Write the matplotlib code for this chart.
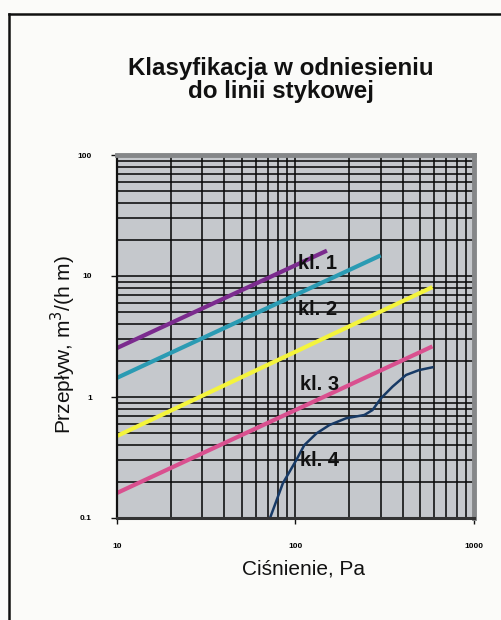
import matplotlib
matplotlib.use("Agg")
import matplotlib.pyplot as plt
from matplotlib.lines import Line2D
from matplotlib.ticker import LogLocator, NullFormatter, FixedLocator, FixedFormatter

# --- data -------------------------------------------------------------
# Class limit lines (straight in log-log): start/end pressure [Pa] and flow [m3/(h m)]
kl1_p = [10, 150]
kl1_q = [2.54, 16.2]
kl2_p = [10, 300]
kl2_q = [1.44, 14.8]
kl3_p = [10, 585]
kl3_q = [0.476, 8.1]
kl4_p = [10, 585]
kl4_q = [0.161, 2.62]

# Measured joint air permeability
meas_p = [72, 85, 101, 112, 131, 155, 192, 243, 270, 301, 350, 416, 493, 585]
meas_q = [0.1, 0.194, 0.301, 0.40, 0.50, 0.587, 0.667, 0.71, 0.78, 0.975, 1.22, 1.52, 1.67, 1.76]

class_labels = ["kl. 1", "kl. 2", "kl. 3", "kl. 4"]
label_p = [133, 133, 136, 136]
label_q = [12.6, 5.33, 1.26, 0.30]

x_ticks = [10, 100, 1000]
x_ticklabels = ["10", "100", "1000"]
y_ticks = [0.1, 1, 10, 100]
y_ticklabels = ["0.1", "1", "10", "100"]

title = "Klasyfikacja w odniesieniu\ndo linii stykowej"
xlabel = "Ciśnienie, Pa"
ylabel = "Przepływ, m$^3$/(h m)"

# --- figure -----------------------------------------------------------
plt.rcParams["font.family"] = ["Liberation Sans", "DejaVu Sans"]
W, H = 502, 620
fig = plt.figure(figsize=(W / 100, H / 100), dpi=100)
fig.patch.set_facecolor("#fbfbf9")

# outer frame (top and left edges)
fig.add_artist(Line2D([9 / W, 1.0], [1 - 14 / H, 1 - 14 / H], color="#111111", lw=1.8))
fig.add_artist(Line2D([9 / W, 9 / W], [0.0, 1 - 14 / H], color="#111111", lw=1.8))

left, right, top, bottom = 117, 474, 155, 518
ax = fig.add_axes([left / W, 1 - bottom / H, (right - left) / W, (bottom - top) / H])
ax.set_facecolor("#c5c8cc")
ax.set_xscale("log")
ax.set_yscale("log")
ax.set_xlim(10, 1000)
ax.set_ylim(0.1, 100)

# grid
ax.xaxis.set_minor_locator(LogLocator(base=10, subs=range(2, 10)))
ax.yaxis.set_minor_locator(LogLocator(base=10, subs=range(2, 10)))
ax.xaxis.set_minor_formatter(NullFormatter())
ax.yaxis.set_minor_formatter(NullFormatter())
ax.grid(True, which="both", color="#0a0a0a", lw=1.15)
ax.set_axisbelow(True)

ax.xaxis.set_major_locator(FixedLocator(x_ticks))
ax.xaxis.set_major_formatter(FixedFormatter(x_ticklabels))
ax.yaxis.set_major_locator(FixedLocator(y_ticks))
ax.yaxis.set_major_formatter(FixedFormatter(y_ticklabels))
ax.tick_params(which="minor", length=0)
ax.tick_params(which="major", length=4, width=1.0, color="#111111")
ax.tick_params(axis="x", which="major", pad=14, labelsize=6)
ax.tick_params(axis="y", which="major", pad=14, labelsize=6)
for lab in ax.get_xticklabels() + ax.get_yticklabels():
    lab.set_fontweight("bold")

# spines: dark axis lines left/bottom, gray plot-area border top/right
ax.spines["left"].set_color("#111111")
ax.spines["left"].set_linewidth(1.6)
ax.spines["bottom"].set_color("#333333")
ax.spines["bottom"].set_linewidth(2.2)
ax.spines["top"].set_color("#858789")
ax.spines["top"].set_linewidth(3.5)
ax.spines["right"].set_color("#858789")
ax.spines["right"].set_linewidth(3.5)

# series
ax.plot(kl1_p, kl1_q, color="#7b2b8e", lw=3.0, solid_capstyle="butt")
ax.plot(kl2_p, kl2_q, color="#2b9bb3", lw=3.0, solid_capstyle="butt")
ax.plot(kl3_p, kl3_q, color="#f4f43c", lw=3.0, solid_capstyle="butt")
ax.plot(kl4_p, kl4_q, color="#d9508f", lw=3.0, solid_capstyle="butt")
ax.plot(meas_p, meas_q, color="#173a66", lw=1.8)

for txt, px, qy in zip(class_labels, label_p, label_q):
    ax.text(px, qy, txt, fontsize=14.5, fontweight="bold", color="#111111",
            ha="center", va="center")

# titles and axis labels
fig.text(281 / W, 1 - 80 / H, title, fontsize=17.4, fontweight="bold",
         ha="center", va="center", linespacing=1.05, color="#111111")
fig.text(303 / W, 1 - 569 / H, xlabel, fontsize=15, ha="center", va="center",
         color="#111111")
fig.text(63 / W, 1 - 345 / H, ylabel, fontsize=15, ha="center", va="center",
         rotation=90, color="#111111")

fig.savefig("out.png", dpi=100, facecolor=fig.get_facecolor())
